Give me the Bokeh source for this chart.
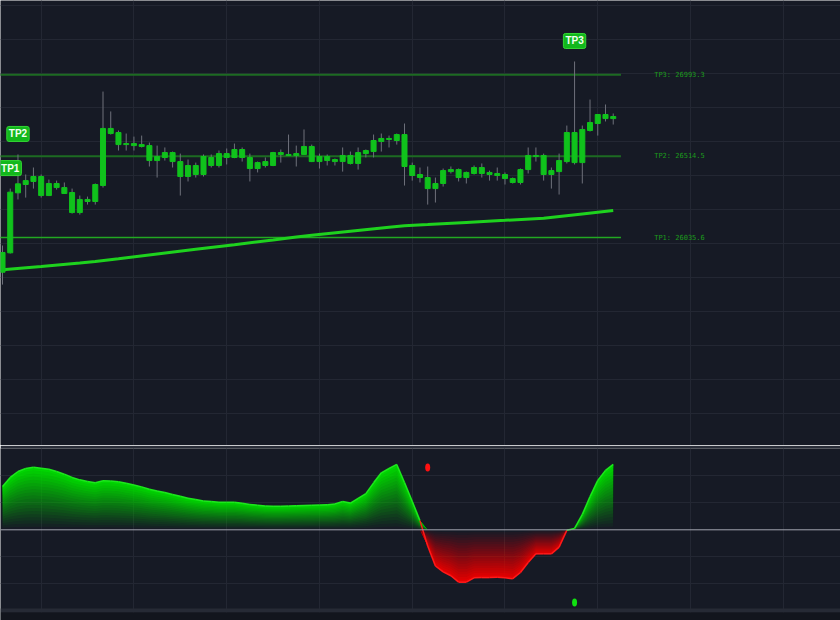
import numpy as np
from bokeh.plotting import figure
from bokeh.layouts import column
from bokeh.models import Range1d, FixedTicker, Span, BoxAnnotation, ColumnDataSource
from bokeh.core.properties import value
from bokeh.embed import file_html
from bokeh.resources import INLINE

# ---------------- data ----------------
opens = [25832, 25946, 26299, 26348, 26366, 26395, 26283, 26354, 26330, 26301,
         26183, 26260, 26248, 26342, 26678, 26654, 26583, 26589, 26583, 26577,
         26489, 26507, 26536, 26483, 26395, 26460, 26407, 26507, 26460, 26530,
         26507, 26554, 26507, 26442, 26460, 26460, 26536, 26525, 26519, 26525,
         26572, 26483, 26513, 26495, 26483, 26519, 26472, 26530, 26542, 26601,
         26619, 26607, 26642, 26460, 26407, 26389, 26324, 26354, 26424, 26436,
         26389, 26413, 26448, 26407, 26413, 26407, 26383, 26360, 26436, 26519,
         26519, 26407, 26424, 26483, 26654, 26477, 26666, 26707, 26760, 26748]
closes = [25948, 26303, 26352, 26371, 26395, 26283, 26354, 26330, 26295, 26183,
          26260, 26248, 26348, 26678, 26648, 26583, 26589, 26577, 26572, 26489,
          26513, 26536, 26483, 26395, 26460, 26407, 26513, 26460, 26530, 26507,
          26554, 26507, 26442, 26477, 26483, 26536, 26525, 26519, 26530, 26572,
          26483, 26513, 26489, 26483, 26519, 26472, 26536, 26548, 26607, 26619,
          26613, 26642, 26454, 26401, 26389, 26324, 26354, 26430, 26436, 26389,
          26419, 26448, 26413, 26419, 26401, 26383, 26360, 26436, 26519, 26513,
          26407, 26430, 26489, 26654, 26477, 26672, 26713, 26760, 26736, 26736]
highs = [25989, 26324, 26525, 26407, 26448, 26407, 26377, 26371, 26360, 26324,
         26283, 26277, 26354, 26895, 26778, 26666, 26648, 26630, 26636, 26595,
         26577, 26566, 26542, 26530, 26495, 26477, 26525, 26525, 26548, 26560,
         26589, 26566, 26530, 26483, 26507, 26540, 26554, 26642, 26577, 26672,
         26583, 26530, 26525, 26501, 26566, 26542, 26566, 26554, 26642, 26648,
         26636, 26648, 26707, 26477, 26448, 26454, 26389, 26442, 26454, 26442,
         26424, 26460, 26472, 26430, 26448, 26419, 26389, 26442, 26566, 26566,
         26530, 26448, 26530, 26695, 27072, 26695, 26848, 26760, 26819, 26766]
lows = [25759, 25942, 26260, 26271, 26324, 26271, 26280, 26318, 26292, 26177,
        26171, 26230, 26230, 26330, 26642, 26548, 26548, 26548, 26566, 26454,
        26389, 26489, 26448, 26283, 26366, 26389, 26395, 26448, 26448, 26466,
        26503, 26483, 26366, 26419, 26448, 26456, 26477, 26516, 26454, 26522,
        26480, 26442, 26460, 26460, 26424, 26466, 26436, 26507, 26507, 26542,
        26566, 26583, 26342, 26371, 26360, 26230, 26242, 26336, 26413, 26366,
        26354, 26407, 26389, 26371, 26371, 26348, 26354, 26348, 26413, 26483,
        26371, 26324, 26289, 26472, 26466, 26354, 26660, 26636, 26719, 26701]

ma_bar = [0, 5, 10, 12, 15, 20, 25, 30, 35, 38, 40, 45, 50, 52, 55, 60, 65, 70, 75, 79]
ma_values = [25847, 25866, 25886, 25895, 25911, 25939, 25967, 25994, 26022, 26039,
             26049, 26073, 26097, 26105, 26112, 26125, 26137, 26150, 26175, 26195]

tp_names = ["TP1", "TP2", "TP3"]
tp_levels = [26035.6, 26514.5, 26993.3]
tp_hit_bar = [1, 2, 74]

osc = [1.60, 1.94, 2.16, 2.27, 2.32, 2.28, 2.24, 2.16, 2.06, 1.94,
       1.85, 1.79, 1.74, 1.82, 1.81, 1.78, 1.72, 1.66, 1.59, 1.50,
       1.44, 1.38, 1.31, 1.24, 1.17, 1.12, 1.07, 1.05, 1.02, 1.02,
       1.02, 0.98, 0.94, 0.91, 0.88, 0.87, 0.87, 0.88, 0.89, 0.90,
       0.91, 0.92, 0.93, 0.96, 1.05, 0.99, 1.16, 1.34, 1.74, 2.11,
       2.27, 2.42, 1.75, 1.06, 0.34, -0.60, -1.34, -1.56, -1.70, -1.94,
       -1.94, -1.78, -1.77, -1.77, -1.76, -1.78, -1.81, -1.58, -1.21, -0.89,
       -0.89, -0.89, -0.64, -0.02, 0.05, 0.57, 1.23, 1.83, 2.20, 2.42]

signal_bar = [55, 74]
signal_value = [2.31, -2.69]
signal_color = ["#ff1010", "#10e010"]

grid_bars = [5, 17, 29, 41, 53, 65, 77, 89, 101]
price_grid = list(range(24800, 27600, 200))
osc_grid = [-2, -1, 1, 2]

# ---------------- styles ----------------
BG = "#161a25"
GRID = "#232733"
SEP = "#2a2e39"
CANDLE = "#10c21c"
WICK = "#6e717b"
MA = "#1ed21e"
GREEN = "#00e000"
RED = "#f00000"

X_RANGE = Range1d(-0.26, 108.4)

# ---------------- price panel ----------------
p = figure(width=840, height=445, x_range=X_RANGE, y_range=Range1d(24812, 27431),
           output_backend="svg", toolbar_location=None, min_border=0,
           x_axis_location=None, y_axis_location=None,
           background_fill_color=BG, border_fill_color=BG, outline_line_color=None)
p.xgrid.ticker = FixedTicker(ticks=grid_bars)
p.ygrid.ticker = FixedTicker(ticks=price_grid)
p.grid.grid_line_color = GRID
p.grid.grid_line_width = 1

bars = np.arange(len(opens))
src = ColumnDataSource(dict(
    i=bars, high=highs, low=lows,
    top=np.maximum(opens, closes), bottom=np.minimum(opens, closes)))

# TP levels
tp_colors = ["#22a822", "#1d6b22", "#1d6b22"]
tp_widths = [1.5, 2, 2]
for lvl, c, w in zip(tp_levels, tp_colors, tp_widths):
    p.segment(x0=[-1], x1=[80], y0=[lvl], y1=[lvl], line_color=c, line_width=w)

p.text(x=[84.3] * 3, y=tp_levels,
       text=[f"{n}: {l:.1f}" for n, l in zip(tp_names, tp_levels)],
       text_align="left", text_baseline="middle", text_color="#1c9a1c",
       text_font=value("DejaVu Sans Mono"), text_font_size="7px")

# moving average
p.line(x=ma_bar, y=ma_values, line_color=MA, line_width=3)

# candles
p.segment(x0="i", y0="low", x1="i", y1="high", source=src, line_color=WICK, line_width=1)
p.vbar(x="i", width=0.65, top="top", bottom="bottom", source=src,
       fill_color=CANDLE, line_color=CANDLE, line_width=1)

# TP hit badges
p.text(x=tp_hit_bar, y=[highs[b] for b in tp_hit_bar], text=tp_names,
       text_align="center", text_baseline="bottom", y_offset=-13,
       text_color="#f2fff2", text_font=value("Liberation Sans"), text_font_style="bold",
       text_font_size="10px", background_fill_color="#12b81c",
       border_line_color="#33d633", border_line_width=1, border_radius=2, padding=2)

# ---------------- oscillator panel ----------------
q = figure(width=840, height=175, x_range=X_RANGE, y_range=Range1d(-3.359, 3.011),
           output_backend="svg", toolbar_location=None, min_border=0, min_border_top=3,
           x_axis_location=None, y_axis_location=None,
           background_fill_color=BG, border_fill_color=SEP, outline_line_color=None)
q.xgrid.ticker = FixedTicker(ticks=grid_bars)
q.ygrid.ticker = FixedTicker(ticks=osc_grid)
q.grid.grid_line_color = GRID

q.add_layout(BoxAnnotation(bottom=-3.063, top=-2.915, fill_color="#262a35", fill_alpha=1,
                           line_color=None))
q.add_layout(BoxAnnotation(top=-3.063, fill_color="#12151d", fill_alpha=1, line_color=None))

v = np.array(osc)
xo = np.arange(len(osc))
pos = np.clip(v, 0, None)
neg = np.clip(v, None, 0)
K = 20
for n in range(1, K):
    a = 1.0 / (K - n + 1)
    q.varea(x=xo, y1=pos * n / K, y2=pos, fill_color=GREEN, fill_alpha=a)
    q.varea(x=xo, y1=neg * n / K, y2=neg, fill_color=RED, fill_alpha=a)

q.add_layout(Span(location=0, dimension="width", line_color="#a3a6af", line_width=1))

seg_colors = ["#1ee61e" if e >= 0 else "#ff1a1a" for e in v[1:]]
q.segment(x0=xo[:-1], y0=v[:-1], x1=xo[1:], y1=v[1:], line_color=seg_colors, line_width=1.5)

q.ellipse(x=signal_bar, y=signal_value, width=5, height=8,
          width_units="screen", height_units="screen",
          fill_color=signal_color, line_color=None)

layout = column(p, q, spacing=0)
open("out.html", "w").write(file_html(layout, INLINE))
